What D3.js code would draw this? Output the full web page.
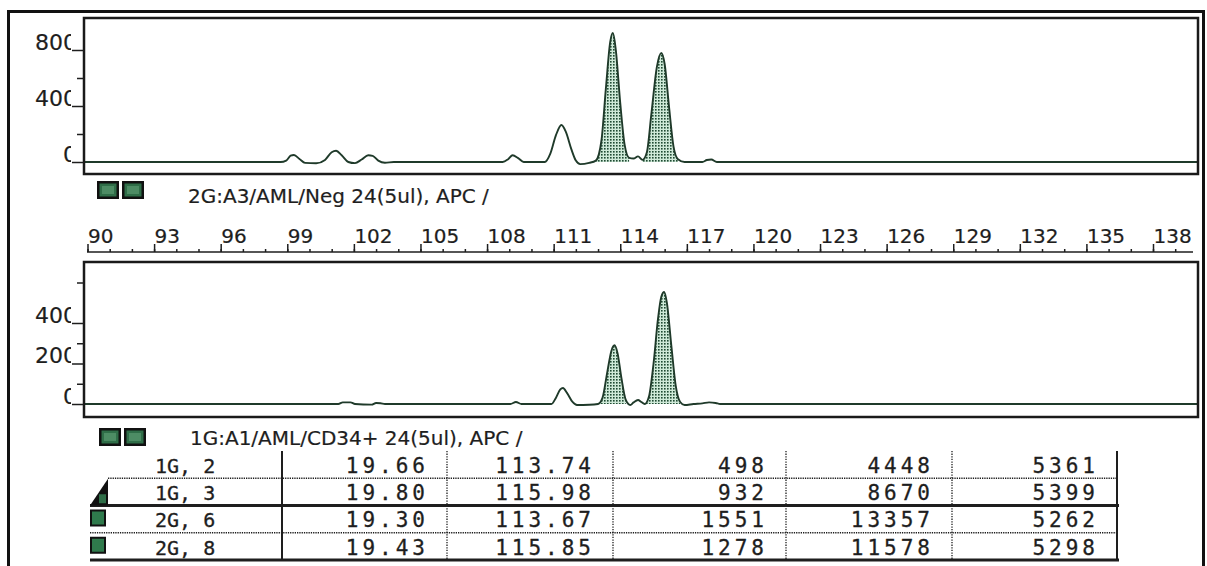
<!DOCTYPE html>
<html lang="en">
<head>
<meta charset="utf-8">
<title>GeneScan peaks</title>
<script src="https://d3js.org/d3.v7.min.js"></script>
<style>
  body { margin: 0; background: #fff; }
  svg { display: block; }
  .lbl { font-family: "DejaVu Sans", sans-serif; font-size: 20px; fill: #1e1e1e; stroke: #1e1e1e; stroke-width: 0.2px; }
  .ylbl { font-size: 22px; }
  .cell { font-family: "DejaVu Sans Mono", monospace; font-size: 21px; fill: #1e1e1e; stroke: #1e1e1e; stroke-width: 0.3px; }
  .axis path.domain { display: none; }
  .axis line { stroke: #1e1e1e; stroke-width: 1.5; }
</style>
</head>
<body>
<div id="viz"></div>
<script>
// trace samples: [size (bp), signal]
var topTrace = [[89.8,0],[98.7,0],[98.95,10],[99.15,45],[99.3,50],[99.55,22],[99.8,-6],[100.3,-9],[100.7,15],[101.0,70],[101.2,80],[101.45,48],[101.75,0],[102.05,-8],[102.35,18],[102.65,48],[102.85,44],[103.1,10],[103.4,-5],[103.8,0],
  [108.7,0],[108.95,20],[109.15,48],[109.4,28],[109.65,0],[110.6,0],[110.85,60],[111.1,190],[111.35,264],[111.55,215],[111.8,90],[112.0,10],[112.2,-15],[112.6,-6],
  [112.9,10],[113.15,150],[113.35,520],[113.55,860],[113.67,921],[113.8,800],[114.0,420],[114.2,120],[114.4,30],[114.6,25],[114.8,40],
  [115.0,15],[115.2,70],[115.4,340],[115.65,680],[115.85,779],[116.0,700],[116.2,390],[116.4,110],[116.6,20],[116.9,0],
  [117.7,0],[117.9,14],[118.1,18],[118.35,0],[140.2,0]];
var bottomTrace = [[89.8,0],[101.3,0],[101.5,8],[101.85,8],[102.05,0],[102.8,-3],[103.0,5],[103.2,4],[103.4,0],
  [109.05,0],[109.3,10],[109.55,0],[110.9,0],[111.1,30],[111.3,72],[111.42,79],[111.6,55],[111.85,10],[112.05,-5],[112.6,-4],
  [113.0,0],[113.2,30],[113.42,160],[113.6,262],[113.74,290],[113.88,250],[114.05,130],[114.25,20],[114.45,-5],[114.6,8],[114.8,20],[114.95,10],
  [115.1,0],[115.3,40],[115.5,200],[115.7,420],[115.85,530],[115.98,553],[116.1,500],[116.3,290],[116.5,90],[116.7,10],[116.9,-5],
  [117.3,0],[117.7,3],[118.0,8],[118.3,5],[118.5,0],[140.2,0]];
var topFill = [[112.9,114.4],[115.0,116.6]];
var bottomFill = [[113.0,114.25],[115.1,116.7]];

var topMajor = [0,400,800], topMinor = [200,600];
var bottomMajor = [0,200,400], bottomMinor = [100,300,600];
var rulerLabels = [90,93,96,99,102,105,108,111,114,117,120,123,126,129,132,135,138];

var topTitle = "2G:A3/AML/Neg 24(5ul), APC /";
var bottomTitle = "1G:A1/AML/CD34+ 24(5ul), APC /";

// peak table
var rowNames = ["1G, 2","1G, 3","2G, 6","2G, 8"];
var scanTimes = ["19.66","19.80","19.30","19.43"];
var peakSizes = ["113.74","115.98","113.67","115.85"];
var peakHeights = [498,932,1551,1278];
var peakAreas = [4448,8670,13357,11578];
var dataPoints = [5361,5399,5262,5298];

var W = 1207, H = 566;
var svg = d3.select("#viz").append("svg").attr("width", W).attr("height", H);

var defs = svg.append("defs");
var pat = defs.append("pattern").attr("id","dots").attr("width",3).attr("height",3)
  .attr("patternUnits","userSpaceOnUse");
pat.append("rect").attr("width",3).attr("height",3).attr("fill","#cfe9d8");
pat.append("rect").attr("x",1).attr("y",1).attr("width",1.6).attr("height",1.6).attr("fill","#1f4a33");
// the last glyph of each y label is cut off in the original
defs.append("clipPath").attr("id","lblclip").attr("clipPathUnits","userSpaceOnUse")
  .append("rect").attr("x",-200).attr("y",-300).attr("width",200 - 13).attr("height",600);

// outer frame
svg.append("rect").attr("x",8.5).attr("y",11.5).attr("width",1195).attr("height",580)
  .attr("fill","none").attr("stroke","#111").attr("stroke-width",3);

var x = d3.scaleLinear().domain([90,138]).range([87.5,1153]);
var px0 = 84, px1 = 1198;

function panel(id, top, bottom, y, trace, fills, major, minor) {
  defs.append("clipPath").attr("id", id).append("rect")
    .attr("x", px0).attr("y", top).attr("width", px1 - px0).attr("height", bottom - top);
  var g = svg.append("g").attr("clip-path", "url(#" + id + ")");
  var line = d3.line().x(function(d){ return x(d[0]); }).y(function(d){ return y(d[1]); })
    .curve(d3.curveMonotoneX);
  var area = d3.area().x(function(d){ return x(d[0]); }).y0(y(0)).y1(function(d){ return y(d[1]); })
    .curve(d3.curveMonotoneX);
  fills.forEach(function(r) {
    var part = trace.filter(function(d){ return d[0] >= r[0] && d[0] <= r[1]; });
    g.append("path").attr("d", area(part)).attr("fill", "url(#dots)");
  });
  g.append("path").attr("d", line(trace)).attr("fill","none")
    .attr("stroke","#1f3a2a").attr("stroke-width",1.9);

  svg.append("rect").attr("x", px0).attr("y", top).attr("width", px1 - px0).attr("height", bottom - top)
    .attr("fill","none").attr("stroke","#1a1a1a").attr("stroke-width",2.5);

  svg.append("g").attr("class","axis").attr("transform","translate(" + px0 + ",0)")
    .call(d3.axisLeft(y).tickValues(minor).tickSize(7).tickFormat(""));
  var ax = svg.append("g").attr("class","axis").attr("transform","translate(" + px0 + ",0)")
    .call(d3.axisLeft(y).tickValues(major).tickSize(12));
  ax.attr("font-size", null).attr("font-family", null);
  ax.selectAll("text").attr("class","lbl ylbl").attr("x",-7).attr("dy","-1")
    .attr("clip-path","url(#lblclip)");
}

panel("clipTop", 18, 174, d3.scaleLinear().domain([0,800]).range([162,50]), topTrace, topFill, topMajor, topMinor);
panel("clipBot", 262, 417, d3.scaleLinear().domain([0,400]).range([404,323]), bottomTrace, bottomFill, bottomMajor, bottomMinor);

// legend swatches and sample names
function swatch(x0, y0) {
  [0, 25].forEach(function(dx) {
    svg.append("rect").attr("x", x0 + dx).attr("y", y0).attr("width", 22).attr("height", 18).attr("fill","#111");
    svg.append("rect").attr("x", x0 + dx + 2.5).attr("y", y0 + 2.5).attr("width", 17).attr("height", 13).attr("fill","#2f6e48");
    svg.append("rect").attr("x", x0 + dx + 5).attr("y", y0 + 5).attr("width", 12).attr("height", 8).attr("fill","#4d8c64");
  });
}
swatch(97, 181);
svg.append("text").attr("class","lbl").attr("x",188).attr("y",203).text(topTitle);
swatch(99, 428);
svg.append("text").attr("class","lbl").attr("x",190).attr("y",445).text(bottomTitle);

// size ruler
var rg = svg.append("g").attr("class","axis").attr("transform","translate(0,252)");
rg.call(d3.axisTop(x).tickValues(d3.range(90,140,1)).tickSize(3).tickFormat(""));
var rmaj = svg.append("g").attr("class","axis").attr("transform","translate(0,252)")
  .call(d3.axisTop(x).tickValues(rulerLabels).tickSize(8).tickFormat(d3.format("d")));
rmaj.attr("font-size", null).attr("font-family", null);
rmaj.selectAll("text").attr("class","lbl").attr("text-anchor","start").attr("dx",0).attr("y",-9).attr("dy",0);
svg.append("line").attr("x1",87).attr("x2",1193).attr("y1",252).attr("y2",252)
  .attr("stroke","#1e1e1e").attr("stroke-width",1.6);

// peak table
var colEdges = [282, 447, 613, 786, 952, 1117];
var rowY = d3.scaleBand().domain(rowNames).range([451, 560]);
var cols = [scanTimes, peakSizes, peakHeights, peakAreas, dataPoints];
var tg = svg.append("g");
rowNames.forEach(function(r, i) {
  var base = rowY(r) + rowY.bandwidth() - 5.5;
  tg.append("text").attr("class","cell").attr("x",155).attr("y",base).style("font-size","20px").text(r);
  cols.forEach(function(c, j) {
    tg.append("text").attr("class","cell").attr("x", colEdges[j + 1] - 18).attr("y", base)
      .attr("text-anchor","end").style("letter-spacing","4px").text(c[i]);
  });
});
var tTop = rowY.range()[0], tBot = rowY.range()[1];
colEdges.forEach(function(cx, j) {
  var solid = (j === 0 || j === colEdges.length - 1);
  tg.append("line").attr("x1",cx).attr("x2",cx).attr("y1",tTop).attr("y2",tBot)
    .attr("stroke","#1e1e1e").attr("stroke-width", solid ? 2 : 1.3)
    .attr("stroke-dasharray", solid ? null : "1.3,1.3");
});
rowNames.forEach(function(r, i) {
  var yy = rowY(r) + rowY.bandwidth();
  var thick = (i % 2 === 1);
  tg.append("line").attr("x1", i === 0 ? 108 : 90).attr("x2", thick ? 1119 : 1117).attr("y1", yy).attr("y2", yy)
    .attr("stroke","#1e1e1e").attr("stroke-width", thick ? 3 : 1.3)
    .attr("stroke-dasharray", thick ? null : "1.3,1");
});
// row markers
var r1 = rowY(rowNames[1]);
tg.append("path").attr("d","M108," + (r1 + 0.5) + "L108," + (r1 + rowY.bandwidth()) + "L90," + (r1 + rowY.bandwidth()) + "Z").attr("fill","#111");
tg.append("rect").attr("x",99).attr("y", r1 + 16).attr("width",7).attr("height",9).attr("fill","#2f6e48");
[2,3].forEach(function(i) {
  var ry = rowY(rowNames[i]);
  tg.append("rect").attr("x",90).attr("y", ry + 4).attr("width",16).attr("height",17).attr("fill","#111");
  tg.append("rect").attr("x",92).attr("y", ry + 6).attr("width",12).attr("height",13).attr("fill","#2f7a4c");
});
</script>
</body>
</html>
